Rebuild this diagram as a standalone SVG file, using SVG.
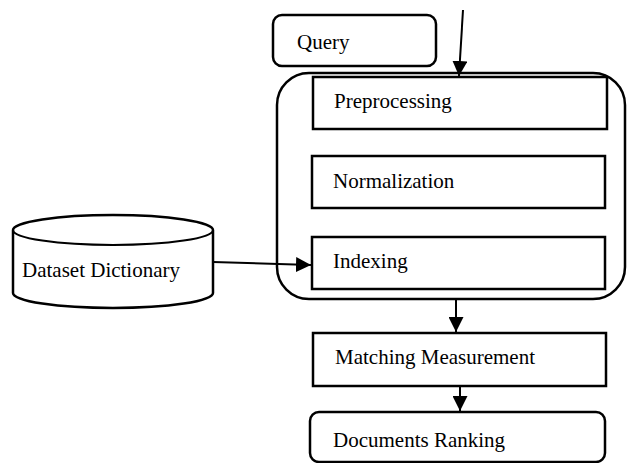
<svg xmlns="http://www.w3.org/2000/svg" width="631" height="463" viewBox="0 0 631 463">
<style>
  .box{fill:#fff;stroke:#000;stroke-width:2.5}
  .t{font-family:'Liberation Serif','DejaVu Serif',serif;font-size:21px;fill:#000}
  .ln{stroke:#000;stroke-width:2;fill:none}
</style>
<defs>
  <marker id="ah" markerWidth="15" markerHeight="15" refX="15" refY="7.5" orient="auto" markerUnits="userSpaceOnUse">
    <path d="M0,0 L15,7.5 L0,15 Z" fill="#000"/>
  </marker>
</defs>
<rect width="631" height="463" fill="#fff"/>
<g id="query">
  <rect class="box" x="273" y="15" width="163" height="51" rx="9"/>
  <text class="t" x="297" y="49">Query</text>
</g>
<g id="container">
  <rect class="box" x="277" y="73" width="348" height="226" rx="32"/>
</g>
<g id="preprocessing">
  <rect class="box" x="313" y="77" width="294" height="52"/>
  <text class="t" x="334" y="108">Preprocessing</text>
</g>
<g id="normalization">
  <rect class="box" x="312" y="156" width="293" height="52"/>
  <text class="t" x="333" y="188">Normalization</text>
</g>
<g id="indexing">
  <rect class="box" x="312" y="237" width="293" height="52"/>
  <text class="t" x="333" y="268">Indexing</text>
</g>
<g id="dataset">
  <path class="box" d="M13,230 L13,293 A100,15 0 0 0 213,293 L213,230 A100,15 0 0 0 13,230 Z"/>
  <path class="ln" d="M13,230 A100,15 0 0 0 213,230" stroke-width="2.5"/>
  <text class="t" x="22" y="277">Dataset Dictionary</text>
</g>
<g id="matching">
  <rect class="box" x="313" y="333" width="293" height="53"/>
  <text class="t" x="335" y="364">Matching Measurement</text>
</g>
<g id="ranking">
  <rect class="box" x="310" y="412" width="295" height="50" rx="9"/>
  <text class="t" x="333" y="447">Documents Ranking</text>
</g>
<g id="connectors">
  <line class="ln" x1="463" y1="10" x2="459" y2="76" marker-end="url(#ah)"/>
  <line class="ln" x1="213" y1="262" x2="311" y2="265" marker-end="url(#ah)"/>
  <line class="ln" x1="456" y1="299" x2="456" y2="332" marker-end="url(#ah)"/>
  <line class="ln" x1="460" y1="386" x2="460" y2="411" marker-end="url(#ah)"/>
</g>
</svg>
